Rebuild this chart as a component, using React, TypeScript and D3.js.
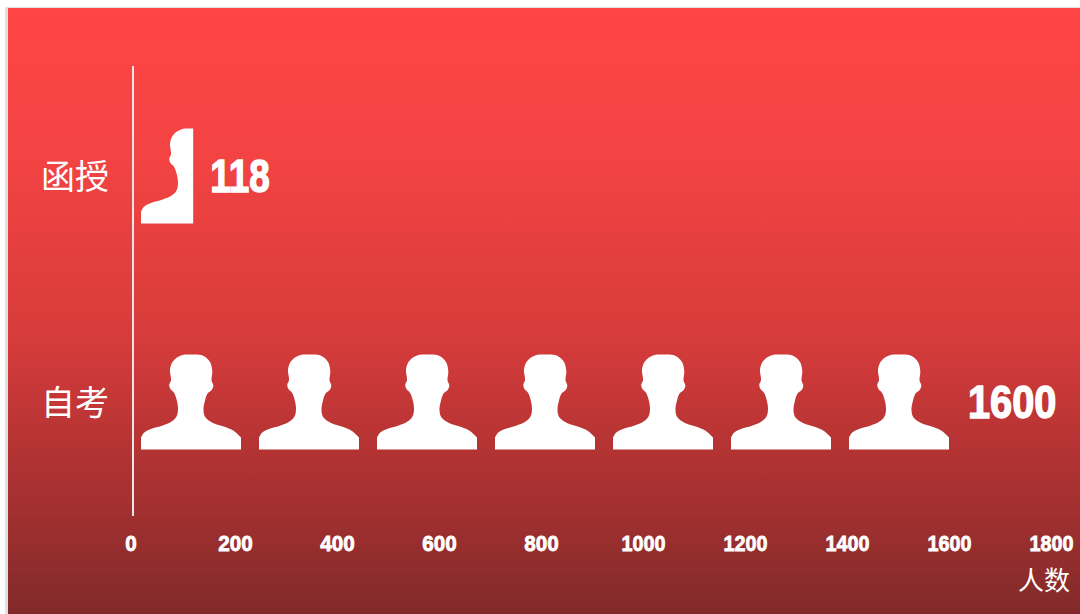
import React from "react";
import * as d3 from "d3";

const categories = ["函授", "自考"];
const values = [118, 1600];
const xTicks = [0, 200, 400, 600, 800, 1000, 1200, 1400, 1600, 1800];
const xAxisName = "人数";
const iconCount = 7;
const iconMax = 1600;

const W = 1080;
const H = 614;
const NUM_FONT = "'Liberation Sans', sans-serif";
const CJK_FONT = "'Noto Sans CJK SC', sans-serif";

// Bust silhouette in a 100 x 95 box
const bust: [number, number][] = [
  [0, 83], [3.3, 78], [10, 74.5], [21.7, 71], [30.5, 67], [35.5, 62], [37, 55], [36, 46.7],
  [33, 38.3], [29.3, 34.3], [28.3, 30], [30, 25.7], [29, 15], [32, 6.7], [40, 1], [50, 0],
  [61.7, 1], [69, 7.5], [71.3, 16.7], [70.5, 25.7], [72.3, 31], [70.5, 35.7], [66.5, 39], [63.5, 48],
  [62.5, 56], [64.5, 63], [72, 68.5], [85, 72.7], [93.3, 76.7], [100, 83],
];
const outline = d3.line().curve(d3.curveCatmullRom.alpha(0.5));
const bustPath = `${outline(bust)} L100,95 L0,95 Z`;

const x = d3.scaleLinear().domain([0, 1800]).range([133, 1051]);
const y = d3.scaleBand().domain(categories).range([63, 515]);
const iconW = 100;
const iconH = 95;
const iconStart = x(0) + 8;
const iconStep = (x(iconMax) - iconStart - iconW) / (iconCount - 1);

// The reference face is a heavy condensed grotesque: narrow the fallback to its widths.
const digitsWidth = (s: string, one: number, other: number) =>
  s.split("").reduce((sum, ch) => sum + (ch === "1" ? one : other), 0);

export default function App() {
  return (
    <svg
      width={W}
      height={H}
      viewBox={`0 0 ${W} ${H}`}
      style={{ position: "fixed", left: 0, top: 0, display: "block", background: "#fff" }}
    >
      <defs>
        <linearGradient id="bg" x1="0" y1="0" x2="0" y2="1">
          <stop offset="0" stopColor="#ff4545" />
          <stop offset="0.25" stopColor="#f34343" />
          <stop offset="0.55" stopColor="#d63b3b" />
          <stop offset="0.75" stopColor="#b03232" />
          <stop offset="1" stopColor="#822a2a" />
        </linearGradient>
        {categories.map((c, i) => (
          <clipPath id={`clip${i}`} key={c}>
            <rect x={x(0)} y={0} width={x(values[i]) - x(0)} height={H} />
          </clipPath>
        ))}
      </defs>
      <rect x={5} y={7} width={W - 5} height={H - 7} fill="#e0e0e0" />
      <rect x={8} y={8} width={W - 8} height={H - 8} fill="url(#bg)" />
      <line x1={x(0)} x2={x(0)} y1={66} y2={516} stroke="#e6e6e6" strokeWidth={2} />

      {categories.map((c, i) => {
        const centerY = y(c)! + y.bandwidth() / 2;
        const n = Math.ceil((values[i] / iconMax) * iconCount);
        const label = String(values[i]);
        return (
          <g key={c}>
            <text
              x={109}
              y={centerY - 2}
              textAnchor="end"
              dominantBaseline="central"
              fill="#fff"
              fontFamily={CJK_FONT}
              fontSize={34}
              fontWeight={400}
            >
              {c}
            </text>
            <g clipPath={`url(#clip${i})`}>
              {d3.range(n).map((k) => (
                <path
                  key={k}
                  d={bustPath}
                  fill="#fff"
                  transform={`translate(${iconStart + k * iconStep},${centerY - iconH / 2})`}
                />
              ))}
            </g>
            <text
              x={x(values[i]) + (i === 0 ? 17 : 19)}
              y={centerY + 16}
              fill="#fff"
              stroke="#fff"
              strokeWidth={1.4}
              fontFamily={NUM_FONT}
              fontWeight={700}
              fontSize={46}
              textLength={digitsWidth(label, 18, 23.5)}
              lengthAdjust="spacingAndGlyphs"
            >
              {label}
            </text>
          </g>
        );
      })}

      {xTicks.map((t) => {
        const label = String(t);
        return (
          <text
            key={t}
            x={t === 0 ? x(t) - 2 : x(t) + 0.5}
            y={551}
            textAnchor="middle"
            fill="#fff"
            stroke="#fff"
            strokeWidth={0.8}
            fontFamily={NUM_FONT}
            fontWeight={700}
            fontSize={22}
            textLength={digitsWidth(label, 9.5, 11.5)}
            lengthAdjust="spacingAndGlyphs"
          >
            {label}
          </text>
        );
      })}
      <text x={1044} y={590} textAnchor="middle" fill="#fff" fontFamily={CJK_FONT} fontWeight={400} fontSize={26}>
        {xAxisName}
      </text>
    </svg>
  );
}
